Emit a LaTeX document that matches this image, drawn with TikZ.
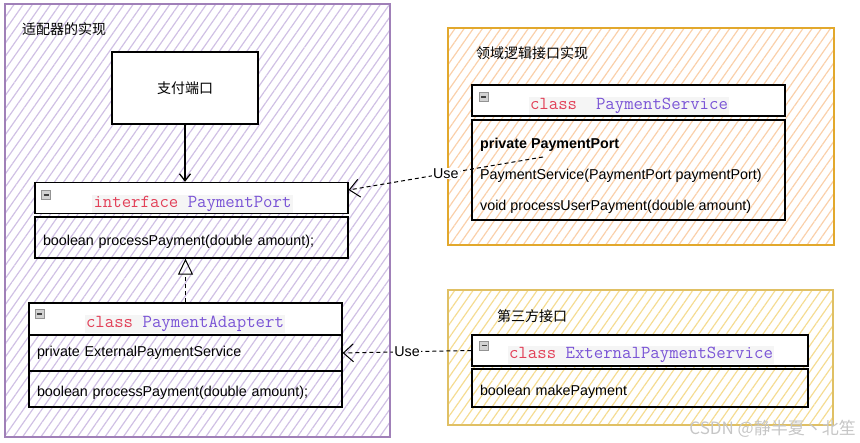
\documentclass[tikz,border=0pt]{standalone}
\usepackage{fontspec}
\setmainfont{Liberation Sans}
\newfontfamily\cjk{Noto Sans CJK SC}
\usetikzlibrary{positioning,arrows.meta,patterns.meta}
\definecolor{AdapterPurple}{RGB}{160,128,184}
\definecolor{AdapterHatch}{RGB}{208,192,228}
\definecolor{DomainOrange}{RGB}{226,168,44}
\definecolor{DomainHatch}{RGB}{250,208,170}
\definecolor{ThirdGold}{RGB}{224,192,100}
\definecolor{ThirdHatch}{RGB}{245,220,146}
\definecolor{KeyRed}{RGB}{226,64,88}
\definecolor{TypePurple}{RGB}{122,84,214}
\definecolor{NameBack}{RGB}{245,245,245}

\newcommand{\kw}[1]{\textcolor{KeyRed}{#1}}
\newcommand{\tn}[1]{\textcolor{TypePurple}{#1}}
\newcommand{\lowtext}[1]{\raisebox{-4pt}[\height][\depth]{#1}}

\begin{document}
\begin{tikzpicture}[x=1pt,y=-1pt, every node/.style={font=\fontsize{14.3}{16}\selectfont, inner sep=0pt},
  hatch/.style={pattern={Lines[angle=55,distance=7.5pt,line width=1.2pt]}},
  hdr/.style={draw, line width=1.3pt, fill=white},
  row/.style={draw, line width=1.3pt, inner xsep=8pt, align=left},
  hname/.style={font=\ttfamily\fontsize{18.3}{20}\selectfont, fill=NameBack, inner sep=1.5pt},
  minusbox/.style={draw=gray!85, fill=gray!35, line width=0.6pt, minimum size=9,
    path picture={\draw[line width=1.4pt, black!75] ([xshift=-2.5pt]path picture bounding box.center)
      -- ([xshift=2.5pt]path picture bounding box.center);}},
  uselabel/.style={fill=white, inner sep=1pt},
  usearrow/.style={line width=1pt, dash pattern=on 4pt off 3pt, -{Straight Barb[length=10pt,width=18pt]}}]
  \useasboundingbox (0,0) rectangle (860,443);

  % groups
  \node[hatch, pattern color=AdapterHatch, draw=AdapterPurple, line width=1.8pt,
        minimum width=385, minimum height=433] (adapterArea) at (197.5,220.5) {};
  \node[hatch, pattern color=DomainHatch, draw=DomainOrange, line width=1.8pt,
        minimum width=386, minimum height=217] (domainArea) at (641,136.5) {};
  \node[hatch, pattern color=ThirdHatch, draw=ThirdGold, line width=1.8pt,
        minimum width=385, minimum height=135] (thirdArea) at (640.5,357.5) {};
  \node[anchor=west, font=\cjk\fontsize{14}{16}\selectfont] (adapterTitle) at (22,29) {适配器的实现};
  \node[anchor=west, font=\cjk\fontsize{14}{16}\selectfont] (domainTitle) at (476,53) {领域逻辑接口实现};
  \node[anchor=west, font=\cjk\fontsize{14}{16}\selectfont] (thirdTitle) at (497,316) {第三方接口};

  % port box
  \node[draw, fill=white, line width=1.3pt, minimum width=146, minimum height=72,
        font=\cjk\fontsize{14}{16}\selectfont] (payPort) at (185,88) {支付端口};

  % interface PaymentPort
  \node[hdr, minimum width=313, minimum height=31] (portHead) at (191.5,198) {};
  \node[minusbox] (portMin) at (46,195) {};
  \node[hname] (portName) at (192.5,204) {\kw{interface} \tn{PaymentPort}};
  \node[row, text width=297, minimum height=41] (portBody) at (191.5,237.5)
    {\lowtext{boolean processPayment(double amount);}};

  % class PaymentAdaptert
  \node[hdr, minimum width=313, minimum height=32] (adaptHead) at (185.5,319) {};
  \node[minusbox] (adaptMin) at (39.5,314) {};
  \node[hname] (adaptName) at (185,324) {\kw{class} \tn{PaymentAdaptert}};
  \node[row, text width=297, minimum height=36] (adaptField) at (185.5,353)
    {private ExternalPaymentService};
  \node[row, text width=297, minimum height=36] (adaptMethod) at (185.5,389)
    {\lowtext{boolean processPayment(double amount);}};

  % class PaymentService
  \node[hdr, minimum width=313, minimum height=31] (svcHead) at (628.5,100.5) {};
  \node[minusbox] (svcMin) at (483.5,97) {};
  \node[hname] (svcName) at (629,106) {\kw{class}\ \ \tn{PaymentService}};
  \node[draw, line width=1.3pt, minimum width=313, minimum height=100] (svcBody) at (628.5,170) {};
  \node[anchor=west, align=left, font=\fontsize{14.3}{31}\selectfont] (svcRows) at (480,176)
    {\textbf{private PaymentPort}\\PaymentService(PaymentPort paymentPort)\\void processUserPayment(double amount)};

  % class ExternalPaymentService
  \node[hdr, minimum width=336, minimum height=31] (extHead) at (640,350.5) {};
  \node[minusbox] (extMin) at (484,345.5) {};
  \node[hname] (extName) at (641,355) {\kw{class} \tn{ExternalPaymentService}};
  \node[row, text width=320, minimum height=38] (extBody) at (640,388)
    {\lowtext{boolean makePayment}};

  % links
  \draw[line width=1.3pt, -{Straight Barb[length=7pt,width=11pt]}] (payPort.south) -- (payPort.south |- portHead.north);
  \draw[line width=1pt, dash pattern=on 4pt off 3pt, -{Triangle[open,length=16pt,width=15pt]}]
    (adaptHead.north) -- (adaptHead.north |- portBody.south);
  \coordinate (useFrom) at (543,157);
  \draw[usearrow] (useFrom) -- node[uselabel, pos=0.5] (useSvc) {Use} ([yshift=8pt]portHead.east);
  \draw[usearrow] (extHead.west) -- node[uselabel] (useExt) {Use} (adaptField.east);

  \node[anchor=east, text=gray!45, font=\cjk\fontsize{17}{19}\selectfont] (mark) at (856,429) {CSDN @静半夏丶北笙};
\end{tikzpicture}
\end{document}
